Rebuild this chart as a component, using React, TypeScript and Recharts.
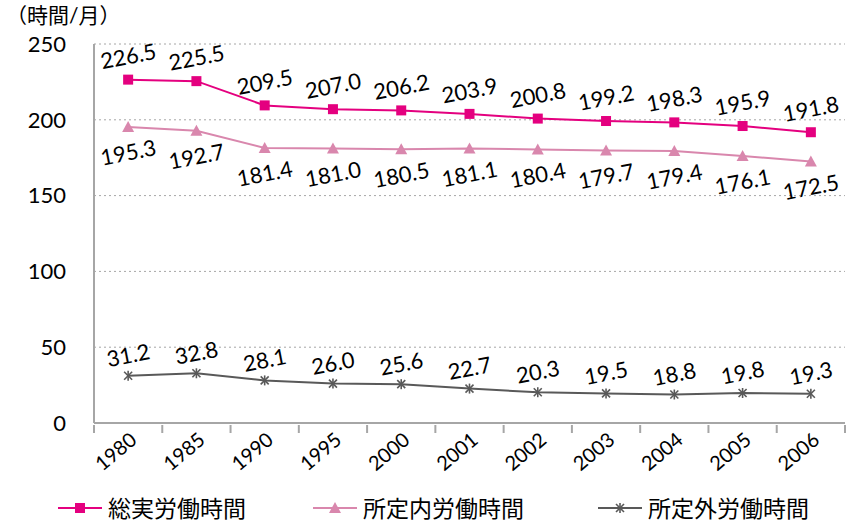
import { CartesianGrid, Line, LineChart, XAxis, YAxis } from "recharts";

const years = ["1980", "1985", "1990", "1995", "2000", "2001", "2002", "2003", "2004", "2005", "2006"];
const totalHours = [226.5, 225.5, 209.5, 207.0, 206.2, 203.9, 200.8, 199.2, 198.3, 195.9, 191.8];
const scheduledHours = [195.3, 192.7, 181.4, 181.0, 180.5, 181.1, 180.4, 179.7, 179.4, 176.1, 172.5];
const overtimeHours = [31.2, 32.8, 28.1, 26.0, 25.6, 22.7, 20.3, 19.5, 18.8, 19.8, 19.3];
const yTicks = [0, 50, 100, 150, 200, 250];

const seriesNames = ["総実労働時間", "所定内労働時間", "所定外労働時間"];
const colors = ["#E4007F", "#D987AD", "#595959"];
const axisGray = "#A6A6A6";

const data = years.map((y, i) => ({
  year: y,
  total: totalHours[i],
  scheduled: scheduledHours[i],
  overtime: overtimeHours[i],
}));

const FONT = "Lato, 'Noto Sans CJK JP', sans-serif";

function SquareDot(props: any) {
  const { cx, cy } = props;
  return <rect x={cx - 5} y={cy - 5} width={10} height={10} fill={colors[0]} />;
}

function TriangleDot(props: any) {
  const { cx, cy } = props;
  return <polygon points={`${cx},${cy - 6} ${cx - 6},${cy + 5} ${cx + 6},${cy + 5}`} fill={colors[1]} />;
}

function StarDot(props: any) {
  const { cx, cy } = props;
  return (
    <g stroke={colors[2]} strokeWidth={1.6}>
      <line x1={cx - 4} y1={cy - 4} x2={cx + 4} y2={cy + 4} />
      <line x1={cx - 4} y1={cy + 4} x2={cx + 4} y2={cy - 4} />
      <line x1={cx} y1={cy - 5} x2={cx} y2={cy + 5} />
    </g>
  );
}

function makeLabel(dy: number) {
  return (props: any) => {
    const { x, y, value } = props;
    const lx = x;
    const ly = y + dy;
    return (
      <text
        x={lx}
        y={ly}
        textAnchor="middle"
        dominantBaseline="central"
        fontSize={22}
        fontFamily={FONT}
        fill="#000"
        transform={`rotate(-11 ${lx} ${ly})`}
      >
        {Number(value).toFixed(1)}
      </text>
    );
  };
}

// category tick: rotated year label plus tick marks on the band edges
function YearTick(props: any) {
  const { x, y, payload, index, visibleTicksCount } = props;
  const half = payload.offset || 0;
  const axisY = y - 8;
  const last = index === (visibleTicksCount ?? years.length) - 1;
  return (
    <g>
      <line x1={x - half} y1={axisY} x2={x - half} y2={axisY + 8} stroke={axisGray} strokeWidth={2} />
      {last && <line x1={x + half} y1={axisY} x2={x + half} y2={axisY + 8} stroke={axisGray} strokeWidth={2} />}
      <text
        x={x + 10}
        y={y + 9}
        textAnchor="end"
        fontSize={20}
        fontFamily={FONT}
        fill="#000"
        transform={`rotate(-40 ${x + 10} ${y + 9})`}
      >
        {payload.value}
      </text>
    </g>
  );
}

const dots = [SquareDot, TriangleDot, StarDot];

export default function App() {
  return (
    <div style={{ position: "absolute", left: 0, top: 0, width: 846, height: 525, background: "#fff", fontFamily: FONT }}>
      <div style={{ position: "absolute", left: 6, top: 0, fontSize: 21, lineHeight: "30px", color: "#000" }}>（時間/月）</div>
      <LineChart width={846} height={525} data={data} margin={{ top: 44, right: 1, left: 8, bottom: 42 }}>
        <CartesianGrid vertical={false} stroke={axisGray} strokeDasharray="2 3" />
        <XAxis
          dataKey="year"
          scale="band"
          stroke={axisGray}
          strokeWidth={2}
          tickLine={false}
          tickSize={8}
          tick={<YearTick />}
          height={60}
          interval={0}
        />
        <YAxis
          domain={[0, 250]}
          ticks={yTicks}
          width={86}
          tickLine={false}
          tickMargin={22}
          stroke={axisGray}
          strokeWidth={2}
          tick={{ fill: "#000", fontSize: 22, fontFamily: FONT }}
        />
        <Line dataKey="total" stroke={colors[0]} strokeWidth={2} dot={<SquareDot />} label={makeLabel(-24)} isAnimationActive={false} />
        <Line dataKey="scheduled" stroke={colors[1]} strokeWidth={2} dot={<TriangleDot />} label={makeLabel(25)} isAnimationActive={false} />
        <Line dataKey="overtime" stroke={colors[2]} strokeWidth={2} dot={<StarDot />} label={makeLabel(-21)} isAnimationActive={false} />
      </LineChart>
      <svg style={{ position: "absolute", left: 0, top: 492 }} width={846} height={33}>
        {seriesNames.map((name, i) => {
          const starts = [58, 313, 598];
          const x0 = starts[i];
          const Dot = dots[i];
          return (
            <g key={name}>
              <line x1={x0} y1={16} x2={x0 + 44} y2={16} stroke={colors[i]} strokeWidth={2} />
              <Dot cx={x0 + 22} cy={16} />
              <text x={x0 + 50} y={16} dominantBaseline="central" fontSize={23} fontFamily={FONT} fill="#000">
                {name}
              </text>
            </g>
          );
        })}
      </svg>
    </div>
  );
}
